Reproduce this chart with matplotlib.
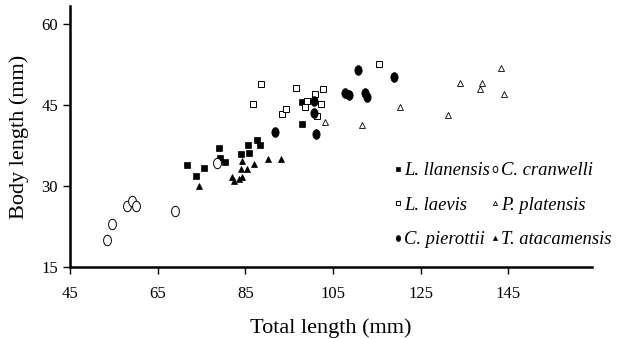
import numpy as np
import matplotlib
matplotlib.use("Agg")
import matplotlib.pyplot as plt
from matplotlib.path import Path

plt.rcParams['font.family'] = ['Liberation Serif', 'DejaVu Serif']

# total length (mm), body length (mm) per species
llan_x = [71.7, 73.8, 75.6, 79.1, 79.3, 80.4, 84.0, 85.6, 85.9, 87.6, 88.3, 97.9, 97.9]
llan_y = [33.9, 31.9, 33.4, 37.2, 35.3, 34.5, 36.0, 37.6, 36.2, 38.6, 37.6, 45.7, 41.6]

laev_x = [86.7, 88.5, 93.3, 94.2, 96.6, 98.6, 99.1, 100.8, 101.3, 102.2, 102.8, 115.4]
laev_y = [45.3, 49.0, 43.4, 44.3, 48.3, 44.7, 45.8, 47.1, 43.1, 45.3, 48.1, 52.7]

pier_x = [91.7, 100.6, 100.6, 101.0, 107.8, 108.6, 110.8, 112.4, 112.7, 119.0]
pier_y = [40.0, 45.8, 43.6, 39.8, 47.3, 46.9, 51.6, 47.3, 46.5, 50.3]

cran_x = [53.4, 54.7, 57.9, 59.2, 60.1, 69.0, 78.6]
cran_y = [20.0, 23.1, 26.4, 27.3, 26.4, 25.5, 34.3]

plat_x = [103.2, 111.6, 120.3, 131.2, 134.0, 138.4, 139.0, 143.2, 143.9]
plat_y = [42.0, 41.3, 44.8, 43.2, 49.1, 48.0, 49.2, 51.9, 47.1]

atac_x = [74.5, 82.0, 82.5, 83.6, 83.9, 84.2, 84.3, 85.3, 86.9, 90.1, 93.2]
atac_y = [30.1, 31.7, 31.0, 31.3, 33.2, 34.8, 31.8, 33.2, 34.2, 35.0, 35.1]

xticks = [45, 65, 85, 105, 125, 145]
yticks = [15, 30, 45, 60]

# upright ellipse marker, the circles in the original are a bit taller than wide
t = np.linspace(0, 2*np.pi, 41)
ell = Path(np.column_stack([0.75*np.cos(t), np.sin(t)]), closed=True)

fig = plt.figure(figsize=(6.19, 3.39), dpi=100)
ax = fig.add_axes([0.113, 0.211, 0.843, 0.771])

h1, = ax.plot(llan_x, llan_y, 's', ms=5, mfc='black', mec='black', mew=0.5, label='L. llanensis')
h2, = ax.plot(laev_x, laev_y, 's', ms=5, mfc='white', mec='black', mew=0.7, label='L. laevis')
h3, = ax.plot(pier_x, pier_y, marker=ell, ls='none', ms=7, mfc='black', mec='black', mew=0.5, label='C. pierottii')
h4, = ax.plot(cran_x, cran_y, marker=ell, ls='none', ms=7.5, mfc='white', mec='black', mew=0.7, label='C. cranwelli')
h5, = ax.plot(plat_x, plat_y, '^', ms=5, mfc='white', mec='black', mew=0.6, label='P. platensis')
h6, = ax.plot(atac_x, atac_y, '^', ms=5, mfc='black', mec='black', mew=0.5, label='T. atacamensis')

ax.set_xlim(45, 164)
ax.set_ylim(15, 63.4)
ax.set_xticks(xticks)
ax.set_yticks(yticks)
ax.tick_params(labelsize=12, length=5, width=1, direction='out')
ax.tick_params(axis='x', pad=8)
for s in ['top', 'right']:
    ax.spines[s].set_visible(False)
for s in ['left', 'bottom']:
    ax.spines[s].set_linewidth(1.8)

ax.set_xlabel('Total length (mm)', fontsize=16, labelpad=12)
ax.set_ylabel('Body length (mm)', fontsize=16, labelpad=9)

leg = ax.legend(handles=[h1, h2, h3, h4, h5, h6], ncol=2, frameon=False,
                loc='upper left', bbox_to_anchor=(0.607, 0.432),
                prop={'style': 'italic', 'size': 13.4}, markerscale=0.6,
                handlelength=0.4, handletextpad=0.12, labelspacing=0.94,
                columnspacing=0.08, borderaxespad=0)

fig.savefig('out.png', dpi=100)
